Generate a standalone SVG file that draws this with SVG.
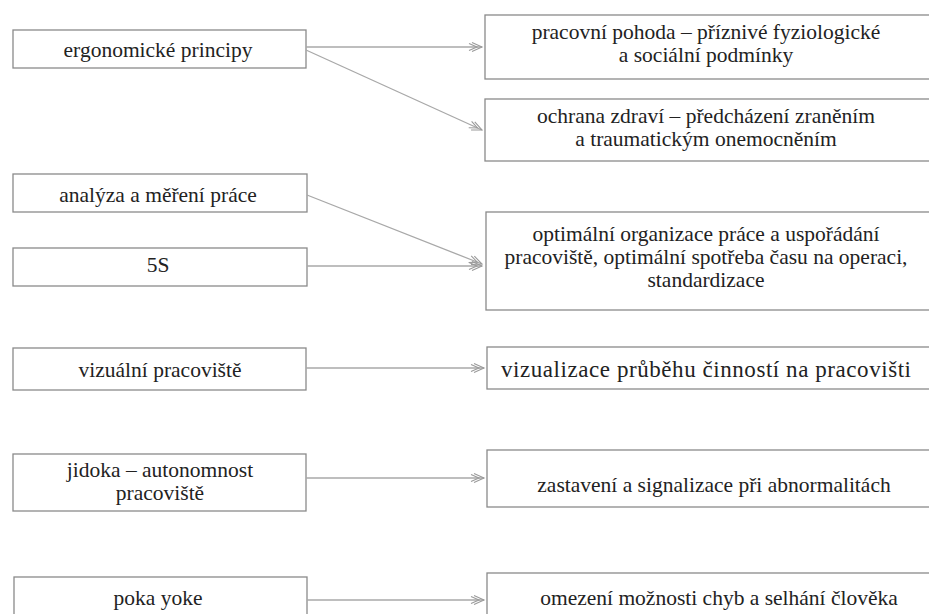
<svg xmlns="http://www.w3.org/2000/svg" width="929" height="614" viewBox="0 0 929 614">
<style>
.box{fill:#fff;stroke:#8a8a8a;stroke-width:1.3}
.t{font-family:"Liberation Serif","DejaVu Serif","Times New Roman",serif;font-size:21.5px;fill:#222;text-anchor:middle}
.c{stroke:#a8a8a8;stroke-width:1.3;fill:none}
</style>
<defs>
<marker id="ah" markerWidth="16" markerHeight="12" refX="14" refY="6" orient="auto" markerUnits="userSpaceOnUse">
<path d="M4,1.5 L14,6 L4,10.5 M1,2.5 L9,6 L1,9.5" fill="none" stroke="#9a9a9a" stroke-width="1.1"/>
</marker>
</defs>
<rect width="929" height="614" fill="#fff"/>
<g id="n-ergo"><rect class="box" x="13" y="30" width="293" height="38"/><text class="t" x="158" y="57">ergonomické principy</text></g>
<g id="n-pohoda"><rect class="box" x="485" y="15" width="450" height="64"/><text class="t" x="706" y="39">pracovní pohoda – příznivé fyziologické</text><text class="t" x="706" y="62">a sociální podmínky</text></g>
<g id="n-zdravi"><rect class="box" x="485" y="99" width="450" height="62"/><text class="t" x="706" y="123">ochrana zdraví – předcházení zraněním</text><text class="t" x="706" y="146">a traumatickým onemocněním</text></g>
<g id="n-analyza"><rect class="box" x="13" y="174" width="294" height="38"/><text class="t" x="158" y="202">analýza a měření práce</text></g>
<g id="n-5s"><rect class="box" x="13" y="248" width="294" height="38"/><text class="t" x="158" y="272">5S</text></g>
<g id="n-optim"><rect class="box" x="486" y="212" width="450" height="98"/><text class="t" x="706" y="241">optimální organizace práce a uspořádání</text><text class="t" x="706" y="264">pracoviště, optimální spotřeba času na operaci,</text><text class="t" x="706" y="287">standardizace</text></g>
<g id="n-vizual"><rect class="box" x="13" y="348" width="293" height="42"/><text class="t" x="160" y="377">vizuální pracoviště</text></g>
<g id="n-vizualizace"><rect class="box" x="487" y="347" width="450" height="42"/><text class="t" x="706" y="377" style="font-size:23px" textLength="410" lengthAdjust="spacing">vizualizace průběhu činností na pracovišti</text></g>
<g id="n-jidoka"><rect class="box" x="13" y="454" width="293" height="57"/><text class="t" x="160" y="477">jidoka – autonomnost</text><text class="t" x="160" y="500">pracoviště</text></g>
<g id="n-zastaveni"><rect class="box" x="487" y="450" width="450" height="57"/><text class="t" x="714" y="492">zastavení a signalizace při abnormalitách</text></g>
<g id="n-poka"><rect class="box" x="14" y="577" width="293" height="50"/><text class="t" x="158" y="605">poka yoke</text></g>
<g id="n-omezeni"><rect class="box" x="487" y="573" width="450" height="50"/><text class="t" x="719" y="605">omezení možnosti chyb a selhání člověka</text></g>
<g id="connectors">
<line class="c" x1="306" y1="47" x2="482" y2="47" marker-end="url(#ah)"/>
<line class="c" x1="306" y1="50" x2="482" y2="130" marker-end="url(#ah)"/>
<line class="c" x1="307" y1="195" x2="482" y2="264" marker-end="url(#ah)"/>
<line class="c" x1="307" y1="266" x2="482" y2="266" marker-end="url(#ah)"/>
<line class="c" x1="306" y1="368" x2="484" y2="368" marker-end="url(#ah)"/>
<line class="c" x1="306" y1="478" x2="484" y2="478" marker-end="url(#ah)"/>
<line class="c" x1="307" y1="600" x2="484" y2="600" marker-end="url(#ah)"/>
</g>
</svg>
